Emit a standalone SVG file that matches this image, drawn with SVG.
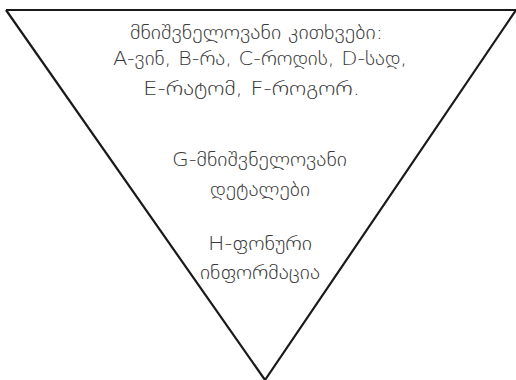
<svg xmlns="http://www.w3.org/2000/svg" width="516" height="380" viewBox="0 0 516 380">
<style>
.t{font-family:"DejaVu Sans","Noto Sans",sans-serif;font-size:19.5px;font-weight:200;fill:#3a3a3a;text-anchor:middle}
.ln{fill:none;stroke:#1a1a1a;stroke-width:2.2}
</style>
<rect width="516" height="380" fill="#fff"/>
<g id="connectors">
<path class="ln" d="M6,10 L516,10"/>
<path class="ln" d="M6,10 L265,380 L516,10"/>
</g>
<g id="node-questions">
<text class="t" x="256.5" y="39" textLength="253" lengthAdjust="spacingAndGlyphs">მნიშვნელოვანი კითხვები:</text>
<text class="t" x="260" y="65" textLength="294" lengthAdjust="spacingAndGlyphs">A-ვინ, B-რა, C-როდის, D-სად,</text>
<text class="t" x="251.5" y="95" textLength="217" lengthAdjust="spacingAndGlyphs">E-რატომ, F-როგორ.</text>
</g>
<g id="node-details">
<text class="t" x="259.5" y="166" textLength="175" lengthAdjust="spacingAndGlyphs">G-მნიშვნელოვანი</text>
<text class="t" x="260" y="196" textLength="100" lengthAdjust="spacingAndGlyphs">დეტალები</text>
</g>
<g id="node-background">
<text class="t" x="260" y="250" textLength="104" lengthAdjust="spacingAndGlyphs">H-ფონური</text>
<text class="t" x="260" y="279" textLength="120" lengthAdjust="spacingAndGlyphs">ინფორმაცია</text>
</g>
</svg>
